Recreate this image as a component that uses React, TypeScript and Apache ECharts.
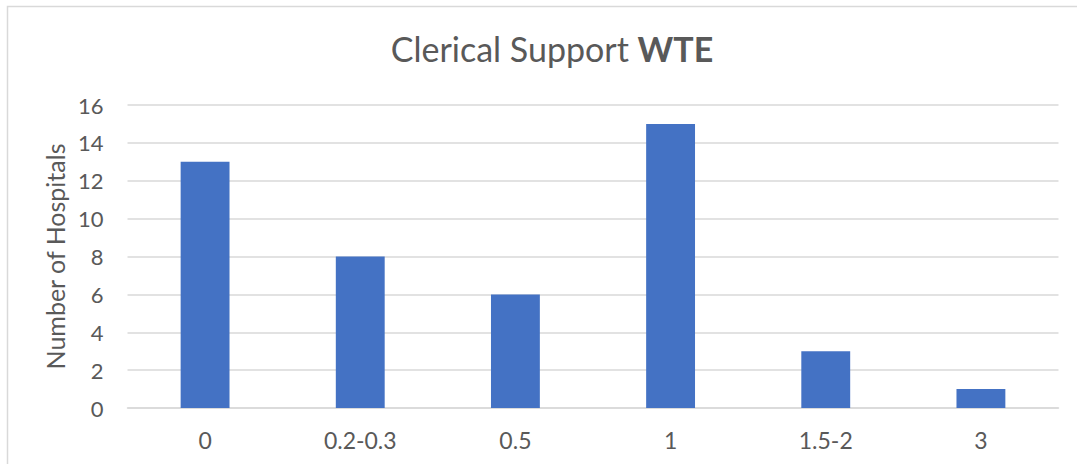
import React, { useEffect, useRef } from "react";
import * as echarts from "echarts";

const categories = ["0", "0.2-0.3", "0.5", "1", "1.5-2", "3"];
const hospitals = [13, 8, 6, 15, 3, 1];
const yTicks = { min: 0, max: 16, interval: 2 };

const FONT = "Lato, 'Noto Sans', sans-serif";

export default function App() {
  const ref = useRef<HTMLDivElement>(null);
  useEffect(() => {
    const chart = echarts.init(ref.current!, null, { renderer: "svg" });
    chart.setOption({
      animation: false,
      backgroundColor: "#ffffff",
      graphic: [
        {
          type: "rect",
          shape: { x: 7.5, y: 6.5, width: 1200, height: 600 },
          style: { fill: "none", stroke: "#D9D9D9", lineWidth: 1.5 },
          silent: true,
        },
      ],
      title: {
        text: "Clerical Support {b|WTE}",
        left: 547,
        textAlign: "center",
        top: 26,
        textStyle: {
          fontFamily: FONT,
          fontSize: 34,
          fontWeight: "normal",
          color: "#595959",
          rich: {
            b: { fontFamily: FONT, fontSize: 34, fontWeight: "bold", color: "#595959" },
          },
        },
      },
      grid: { left: 127.5, right: 18.5, top: 105, bottom: 56, containLabel: false },
      xAxis: {
        type: "category",
        data: categories,
        axisLine: { lineStyle: { color: "#D9D9D9", width: 1.5 } },
        axisTick: { show: false },
        axisLabel: { color: "#595959", fontFamily: FONT, fontSize: 23, margin: 20 },
      },
      yAxis: {
        type: "value",
        min: yTicks.min,
        max: yTicks.max,
        interval: yTicks.interval,
        name: "Number of Hospitals",
        nameLocation: "middle",
        nameGap: 55,
        nameTextStyle: { color: "#595959", fontFamily: FONT, fontSize: 25 },
        axisLine: { show: false },
        axisTick: { show: false },
        axisLabel: { color: "#595959", fontFamily: FONT, fontSize: 22, margin: 24 },
        splitLine: { lineStyle: { color: "#D9D9D9", width: 1.5 } },
      },
      series: [
        {
          type: "bar",
          data: hospitals,
          barWidth: "31.5%",
          itemStyle: { color: "#4472C4" },
        },
      ],
    });
    return () => chart.dispose();
  }, []);
  return (
    <div
      ref={ref}
      style={{ position: "fixed", left: 0, top: 0, width: 1077, height: 464 }}
    />
  );
}
